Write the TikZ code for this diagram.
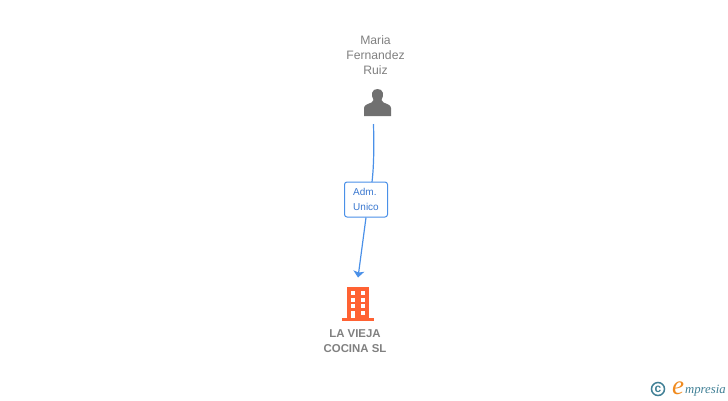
\documentclass[tikz,border=0pt]{standalone}
\usepackage{fontspec}
\setmainfont{Liberation Sans}
\newfontfamily\logofont{Liberation Serif}
\usetikzlibrary{arrows.meta}
\definecolor{txtgrey}{HTML}{808080}
\definecolor{persongrey}{HTML}{707070}
\definecolor{linkblue}{HTML}{4A90E8}
\definecolor{boxtext}{HTML}{3A78D0}
\definecolor{bldorange}{HTML}{FF6233}
\definecolor{logoteal}{HTML}{3F7F95}
\definecolor{logoorange}{HTML}{F08A1E}
\tikzset{
 lbl/.style={inner sep=0pt,text=txtgrey,font=\fontsize{12.2}{15}\selectfont,align=center},
 boldlbl/.style={inner sep=0pt,text=txtgrey,font=\fontsize{11.4}{15}\selectfont\bfseries,align=center},
 rolebox/.style={draw=linkblue,line width=1pt,rounded corners=2.5pt,fill=white,minimum width=43pt,minimum height=35pt,inner sep=0pt,text=boxtext,font=\fontsize{10}{15}\selectfont,align=left},
 link/.style={draw=linkblue,line width=1.2pt},
}
\begin{document}
\begin{tikzpicture}[x=1pt,y=-1pt]
\useasboundingbox (0,0) rectangle (728,400);
\node[lbl] (name) at (375.5,55) {Maria\\Fernandez\\Ruiz};
% person icon
\fill[persongrey] (364,116) -- (364,108) .. controls (364,105) and (368,104) .. (371.5,102.5) -- (373.5,100) .. controls (372,97) and (371.7,95) .. (372,93) .. controls (372.5,90) and (375,89) .. (377.5,89) .. controls (380,89) and (382.5,90) .. (383,93) .. controls (383.3,95) and (383,97) .. (381.5,100) -- (383.5,102.5) .. controls (387,104) and (391,105) .. (391,108) -- (391,116) -- cycle;
\coordinate (personout) at (373.5,124);
\node[rolebox] (role) at (366,199.5) {Adm.\\Unico};
\coordinate (rolein) at (372,182);
\coordinate (tip) at (358,277.5);
\draw[link] (personout) .. controls (374,145) and (374,165) .. (rolein);
\draw[link,-{Stealth[width=11pt,length=6.5pt,inset=1.5pt]}] (role.south) -- (tip);
% building
\fill[bldorange] (347,287) rectangle (369,318);
\fill[bldorange] (342,318) rectangle (374,320.5);
\foreach \y in {291,297.5,304}{
 \fill[white] (351,\y) rectangle (355.3,\y+4.2);
 \fill[white] (360.7,\y) rectangle (365,\y+4.2);
}
\fill[white] (360.7,310.7) rectangle (365,315);
\fill[white] (351,310.7) rectangle (355.3,318);
\node[boldlbl] (company) at (355,341) {LA VIEJA\\COCINA SL};
% logo
\node[draw=logoteal,line width=1.5pt,circle,minimum size=13pt,inner sep=0pt,text=logoteal,font=\fontsize{12}{12}\selectfont\bfseries] (copy) at (658,389) {c};
\node[inner sep=0pt,anchor=base west,text=logoorange,font=\logofont\itshape\fontsize{27}{27}\selectfont] (logoe) at (672,394) {e};
\node[inner sep=0pt,anchor=base west,text=logoteal,font=\logofont\itshape\fontsize{12.7}{13}\selectfont] (logot) at (685,393) {mpresia};
\end{tikzpicture}
\end{document}
